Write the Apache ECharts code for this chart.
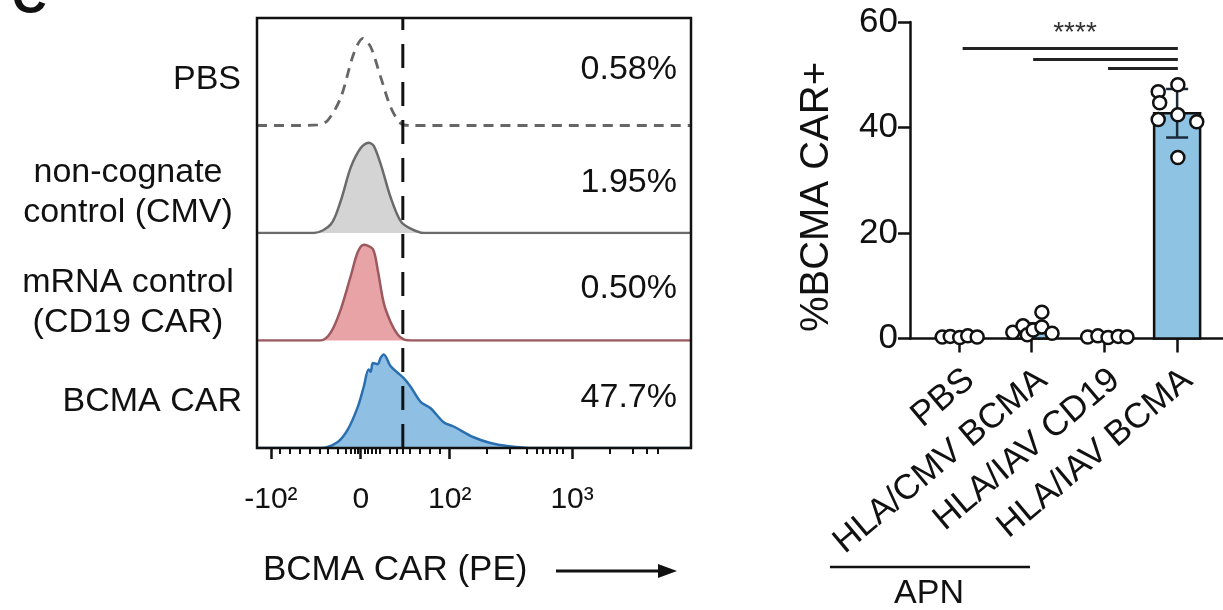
<!DOCTYPE html>
<html>
<head>
<meta charset="utf-8">
<script src="https://cdn.jsdelivr.net/npm/echarts@6/dist/echarts.min.js"></script>
<style>
html, body { margin: 0; padding: 0; background: #fff; }
#chart { width: 1223px; height: 610px; }
</style>
</head>
<body>
<div id="chart"></div>
<script>
// left panel: histograms on a display scale 0..1000, heights as % of row
let rowNames = ['PBS', 'non-cognate\ncontrol (CMV)', 'mRNA control\n(CD19 CAR)', 'BCMA CAR'];
let rowPercents = ['0.58%', '1.95%', '0.50%', '47.7%'];
let histPBS = [[0,0],[100,0],[140,0.5],[163,4.7],[193,26],[223,67],[244,81],[262,73],[285,45],[308,17],[331,2],[354,0],[1000,0]];
let histCMV = [[0,0],[131,0],[170,8],[193,30],[216,61],[239,79],[257,84],[269,81],[285,64],[308,33],[331,11],[354,4],[384,0],[1000,0]];
let histCD19 = [[0,0],[147,0],[170,7.5],[193,29],[216,60],[232,82],[246,89],[267,85],[278,66],[292,35],[308,17],[324,5.6],[338,1],[354,0],[1000,0]];
let histBCMA = [[0,0],[147,0],[186,5.6],[209,17],[232,38],[246,57],[257,73],[262,71],[267,79],[278,78],[285,84],[292,87],[308,76],[324,70],[338,65],[354,57],[377,43],[400,37],[430,24],[453,20],[499,10],[538,4.7],[577,1.9],[637,0],[1000,0]];
let xMajorTicks = [32, 239, 444, 726];
let xTickLabels = ['-10²', '0', '10²', '10³'];
let xMinorTicks = [53,76,99,122,145,164,187,205,217,226,233,249,256,265,274,283,306,323,336,353,376,399,422,530,583,622,645,659,675,691,705,813,866,899,924];
let gateX = 336;

// right panel: bar chart
let groups = ['PBS', 'HLA/CMV BCMA', 'HLA/IAV CD19', 'HLA/IAV BCMA'];
let barMeans = [0.4, 1.9, 0.4, 42.7];
let errLow = [0.2, 1.0, 0.2, 38.1];
let errHigh = [0.6, 2.9, 0.6, 47.3];
let pointsPBS = [[-0.23,0.3],[-0.12,0.4],[0.01,0.2],[0.12,0.5],[0.25,0.3]];
let pointsCMV = [[0.74,1.2],[0.88,2.4],[0.94,0.7],[1.02,1.6],[1.14,2.2],[1.28,1.0],[1.14,5.0]];
let pointsCD19 = [[1.77,0.3],[1.91,0.5],[2.05,0.2],[2.19,0.4],[2.31,0.3]];
let pointsBCMA = [[2.74,46.8],[3.01,48.1],[2.76,44.7],[2.74,41.5],[3.01,42.4],[3.27,41.1],[3.01,34.3]];
let sigBrackets = [[0.05,3.01,55],[1.02,3.01,52.9],[2.05,3.01,51.2]];

let font = 'Liberation Sans, Arial, sans-serif';
let ink = '#111';

let chart = echarts.init(document.getElementById('chart'));

let boxLeft = 257, boxTop = 18, boxW = 434, rowH = 107.5;
let labelShift = 0.15;

let grids = [];
let xAxes = [];
let yAxes = [];
for (let i = 0; i < 4; i++) {
  grids.push({left: boxLeft, top: boxTop + i * rowH, width: boxW, height: rowH});
  xAxes.push({
    type: 'value', gridIndex: i, min: 0, max: 1000, position: 'bottom',
    axisLine: {show: false}, axisTick: {show: false}, axisLabel: {show: false}, splitLine: {show: false}
  });
  yAxes.push({
    type: 'value', gridIndex: i, min: 0, max: 100,
    axisLine: {show: false}, axisTick: {show: false}, axisLabel: {show: false}, splitLine: {show: false}
  });
}
// bottom axis ticks and labels
xAxes[3].axisTick = {show: true, customValues: xMajorTicks, length: 11, lineStyle: {color: ink, width: 2.5}};
xAxes[3].axisLabel = {
  show: true, customValues: xMajorTicks, margin: 37, fontSize: 30, fontFamily: font, color: ink,
  formatter: function (v) { return xTickLabels[xMajorTicks.indexOf(v)]; }
};
xAxes.push({
  type: 'value', gridIndex: 3, min: 0, max: 1000, position: 'bottom', offset: 0,
  axisLine: {show: false}, axisLabel: {show: false}, splitLine: {show: false},
  axisTick: {show: true, customValues: xMinorTicks, length: 6, lineStyle: {color: ink, width: 2}}
});
// overlay grid for the gate line
grids.push({left: boxLeft, top: boxTop, width: boxW, height: rowH * 4});
xAxes.push({type: 'value', gridIndex: 4, min: 0, max: 1000, show: false});
yAxes.push({type: 'value', gridIndex: 4, min: 0, max: 1, show: false});

// right grid
grids.push({left: 910, top: 22, width: 313, height: 316.5});
xAxes.push({
  type: 'value', gridIndex: 5, min: -0.674, max: 3.631,
  axisLine: {show: true, onZero: false, lineStyle: {color: ink, width: 2.5}},
  axisTick: {show: true, customValues: [0, 1, 2, 3], length: 14, lineStyle: {color: ink, width: 2.5}},
  axisLabel: {
    show: true, customValues: [labelShift, 1 + labelShift, 2 + labelShift, 3 + labelShift],
    rotate: 40, margin: 37, fontSize: 35, fontFamily: font, color: ink,
    formatter: function (v) { return groups[Math.round(v - labelShift)]; }
  },
  splitLine: {show: false}
});
yAxes.push({
  type: 'value', gridIndex: 5, min: 0, max: 60, interval: 20,
  axisLine: {show: true, onZero: false, lineStyle: {color: ink, width: 2.5}},
  axisTick: {show: true, length: 12, lineStyle: {color: ink, width: 2.5}},
  axisLabel: {fontSize: 35, fontFamily: font, color: ink, margin: 12},
  splitLine: {show: false}
});

function hist(i, data, lineColor, fill, dashed) {
  return {
    type: 'line', xAxisIndex: i, yAxisIndex: i, data: data, smooth: 0.3,
    showSymbol: false, silent: true, z: 2,
    lineStyle: {color: lineColor, width: dashed ? 2.8 : 2.5, type: dashed ? [10, 7] : 'solid'},
    areaStyle: fill ? {color: fill, opacity: 1} : undefined
  };
}

let pointStyle = {color: '#fff', borderColor: ink, borderWidth: 2.5, opacity: 1};

let option = {
  animation: false,
  backgroundColor: '#fff',
  grid: grids,
  xAxis: xAxes,
  yAxis: yAxes,
  series: [
    hist(0, histPBS, '#666', null, true),
    hist(1, histCMV, '#6b6b6b', '#d4d4d4', false),
    hist(2, histCD19, '#9c5960', '#e8a3a6', false),
    hist(3, histBCMA, '#2a6fb0', '#8fc0e3', false),
    {
      type: 'line', xAxisIndex: 5, yAxisIndex: 4, data: [[gateX, 0], [gateX, 1]],
      showSymbol: false, silent: true, z: 5,
      lineStyle: {color: ink, width: 3, type: [24, 14]}
    },
    {
      type: 'custom', xAxisIndex: 6, yAxisIndex: 5, z: 2,
      data: barMeans.map(function (m, i) { return [i, m]; }),
      renderItem: function (params, api) {
        let p0 = api.coord([api.value(0), 0]);
        let p1 = api.coord([api.value(0), api.value(1)]);
        return {
          type: 'rect',
          shape: {x: p0[0] - 23, y: p1[1], width: 46, height: p0[1] - p1[1]},
          style: {fill: '#8fc3e4', stroke: ink, lineWidth: 2.5}
        };
      }
    },
    {
      type: 'custom', xAxisIndex: 6, yAxisIndex: 5, z: 3,
      data: barMeans.map(function (m, i) { return [i, errLow[i], errHigh[i]]; }),
      renderItem: function (params, api) {
        let lo = api.coord([api.value(0), api.value(1)]);
        let hi = api.coord([api.value(0), api.value(2)]);
        let st = {stroke: '#1b2a3a', lineWidth: 2.5};
        return {
          type: 'group', children: [
            {type: 'line', shape: {x1: lo[0], y1: lo[1], x2: hi[0], y2: hi[1]}, style: st},
            {type: 'line', shape: {x1: lo[0] - 11, y1: lo[1], x2: lo[0] + 11, y2: lo[1]}, style: st},
            {type: 'line', shape: {x1: hi[0] - 11, y1: hi[1], x2: hi[0] + 11, y2: hi[1]}, style: st}
          ]
        };
      }
    },
    {type: 'scatter', xAxisIndex: 6, yAxisIndex: 5, data: pointsPBS, symbolSize: 13, itemStyle: pointStyle, z: 4},
    {type: 'scatter', xAxisIndex: 6, yAxisIndex: 5, data: pointsCMV, symbolSize: 13, itemStyle: pointStyle, z: 4},
    {type: 'scatter', xAxisIndex: 6, yAxisIndex: 5, data: pointsCD19, symbolSize: 13, itemStyle: pointStyle, z: 4},
    {type: 'scatter', xAxisIndex: 6, yAxisIndex: 5, data: pointsBCMA, symbolSize: 13, itemStyle: pointStyle, z: 4},
    {
      type: 'custom', xAxisIndex: 6, yAxisIndex: 5, z: 3, data: sigBrackets,
      renderItem: function (params, api) {
        let a = api.coord([api.value(0), api.value(2)]);
        let b = api.coord([api.value(1), api.value(2)]);
        return {type: 'line', shape: {x1: a[0], y1: a[1], x2: b[0], y2: b[1]}, style: {stroke: '#222', lineWidth: 3}};
      }
    }
  ],
  graphic: [
    {type: 'rect', z: 100, shape: {x: boxLeft, y: boxTop, width: boxW, height: rowH * 4},
      style: {fill: 'none', stroke: ink, lineWidth: 2.5}},
    {type: 'text', z: 100, style: {x: 12, y: 0, text: 'C', font: 'bold 48px ' + font, fill: ink, textAlign: 'left', textVerticalAlign: 'middle'}},
    {type: 'text', style: {x: 241, y: 80, text: rowNames[0], font: '34px ' + font, fill: ink, textAlign: 'right', textVerticalAlign: 'middle'}},
    {type: 'text', style: {x: 128, y: 193, text: rowNames[1], font: '34px ' + font, lineHeight: 40, fill: ink, textAlign: 'center', textVerticalAlign: 'middle'}},
    {type: 'text', style: {x: 128, y: 303, text: rowNames[2], font: '34px ' + font, lineHeight: 40, fill: ink, textAlign: 'center', textVerticalAlign: 'middle'}},
    {type: 'text', style: {x: 242, y: 402, text: rowNames[3], font: '34px ' + font, fill: ink, textAlign: 'right', textVerticalAlign: 'middle'}},
    {type: 'text', style: {x: 677, y: 70, text: rowPercents[0], font: '34px ' + font, fill: ink, textAlign: 'right', textVerticalAlign: 'middle'}},
    {type: 'text', style: {x: 677, y: 183, text: rowPercents[1], font: '34px ' + font, fill: ink, textAlign: 'right', textVerticalAlign: 'middle'}},
    {type: 'text', style: {x: 677, y: 289, text: rowPercents[2], font: '34px ' + font, fill: ink, textAlign: 'right', textVerticalAlign: 'middle'}},
    {type: 'text', style: {x: 677, y: 398, text: rowPercents[3], font: '34px ' + font, fill: ink, textAlign: 'right', textVerticalAlign: 'middle'}},
    {type: 'text', style: {x: 263, y: 570, text: 'BCMA CAR (PE)', font: '35px ' + font, fill: ink, textAlign: 'left', textVerticalAlign: 'middle'}},
    {type: 'line', shape: {x1: 556, y1: 571, x2: 662, y2: 571}, style: {stroke: ink, lineWidth: 3}},
    {type: 'polygon', shape: {points: [[658, 564], [677, 571], [658, 578]]}, style: {fill: ink}},
    {type: 'text', x: 817, y: 197, rotation: Math.PI / 2,
      style: {x: 0, y: 0, text: '%BCMA CAR+', font: '40px ' + font, fill: ink, textAlign: 'center', textVerticalAlign: 'middle'}},
    {type: 'text', style: {x: 1075, y: 33, text: '****', font: '28px ' + font, fill: '#333', textAlign: 'center', textVerticalAlign: 'middle'}},
    {type: 'line', shape: {x1: 830, y1: 567, x2: 1030, y2: 567}, style: {stroke: ink, lineWidth: 2.5}},
    {type: 'text', style: {x: 929, y: 594, text: 'APN', font: '34px ' + font, fill: ink, textAlign: 'center', textVerticalAlign: 'middle'}}
  ]
};

chart.setOption(option);
</script>
</body>
</html>
